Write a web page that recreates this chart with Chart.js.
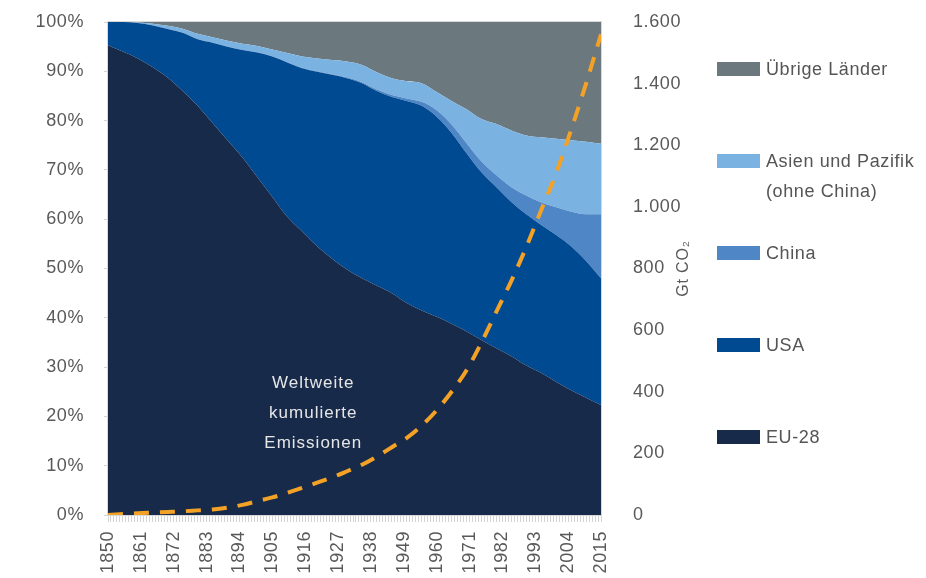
<!DOCTYPE html>
<html>
<head>
<meta charset="utf-8">
<script src="https://cdn.jsdelivr.net/npm/chart.js@4.4.1/dist/chart.umd.min.js"></script>
<style>
  html, body { margin: 0; padding: 0; background: #ffffff; }
  #wrap { position: relative; width: 926px; height: 578px; overflow: hidden; font-family: "Liberation Sans", Arial, sans-serif; }
  #c { position: absolute; left: 0; top: 0; }
  .lg-box { position: absolute; width: 43px; height: 14px; }
  .lg-txt { position: absolute; font-size: 18px; line-height: 30px; color: #555555; letter-spacing: 0.6px; white-space: nowrap; }
</style>
</head>
<body>
<div id="wrap">
  <canvas id="c" width="926" height="578"></canvas>
  <div id="legend"></div>
</div>
<script>
// ---- Data ----
const years = [1850,1855,1860,1865,1870,1875,1880,1885,1890,1895,1900,1905,1910,1915,1920,1925,1930,1935,1940,1945,1950,1955,1960,1965,1970,1975,1980,1985,1990,1995,2000,2005,2010,2015];

// shares of cumulative emissions, %
const shareEU    = [95.3,94.0,92.6,90.8,88.7,86.0,83.0,79.5,76.0,72.5,68.5,64.5,60.5,57.5,54.5,52.0,49.8,48.0,46.5,45.0,43.0,41.5,40.2,38.8,37.2,35.5,33.8,32.2,30.3,28.8,27.0,25.3,23.8,22.3];
const shareUSA   = [4.7,6.0,7.2,8.5,9.9,11.8,13.5,16.3,19.0,21.8,25.3,28.5,31.3,33.1,35.4,37.3,38.8,39.6,39.5,39.8,41.0,41.5,40.6,38.7,36.2,34.0,32.7,31.3,30.7,30.0,29.8,29.2,27.7,25.7];
const shareChina = [0,0,0,0.05,0.05,0.05,0.05,0.05,0.05,0.05,0.05,0.05,0.05,0.1,0.1,0.1,0.15,0.2,0.3,0.4,0.5,0.8,1.3,1.7,2.0,2.2,2.4,3.0,3.8,4.6,5.6,7.0,9.5,13.0];
const shareAsia  = [0,0,0.1,0.3,0.6,0.8,1.05,1.05,1.15,1.25,1.3,1.35,1.85,2.3,2.6,2.9,3.25,3.5,3.5,3.4,3.5,3.8,3.7,4.8,6.9,8.6,10.4,11.5,12.2,13.2,13.9,14.5,14.7,14.3];
const shareOther = [0,0,0.1,0.35,0.75,1.35,2.4,3.1,3.8,4.4,4.85,5.6,6.3,7.0,7.4,7.7,8.0,8.7,10.2,11.4,12.0,12.4,14.2,16.0,17.7,19.7,20.7,22.0,23.0,23.4,23.7,24.0,24.3,24.7];

// worldwide cumulative emissions, Gt CO2
const cumulativeGt = [0,3,6,8,10,12,15,18,24,33,45,57,72,88,105,122,142,163,190,220,250,290,340,400,470,560,660,760,870,990,1110,1250,1400,1560];

// labels
const seriesLabels = ["EU-28","USA","China","Asien und Pazifik\n(ohne China)","Übrige Länder"];
const lineLabel = "Weltweite kumulierte Emissionen";
const annotationLines = ["Weltweite","kumulierte","Emissionen"];
const leftTicks = [0,10,20,30,40,50,60,70,80,90,100];
const rightTicks = [0,200,400,600,800,1000,1200,1400,1600];
const yearTickStep = 11;
const rightTitle = "Gt CO\u2082";

// ---- Styles ----
const colors = ["#172a4a","#004a91","#4f86c6","#7ab2e1","#6b787d"];
const lineColor = "#f4a226";
const textColor = "#595959";
const FONT = "'Liberation Sans', Arial, sans-serif";

const shareSeries = [shareEU, shareUSA, shareChina, shareAsia, shareOther];

const datasets = shareSeries.map((arr, i) => ({
  label: seriesLabels[i],
  data: years.map((yr, j) => ({ x: yr, y: arr[j] })),
  backgroundColor: colors[i],
  borderColor: colors[i],
  borderWidth: 0,
  pointRadius: 0,
  fill: i === 0 ? 'origin' : '-1',
  cubicInterpolationMode: 'monotone',
  yAxisID: 'y',
  order: 1
}));
datasets.push({
  label: lineLabel,
  data: years.map((yr, j) => ({ x: yr, y: cumulativeGt[j] })),
  borderColor: lineColor,
  backgroundColor: lineColor,
  borderWidth: 4,
  borderDash: [15, 11],
  borderCapStyle: 'butt',
  pointRadius: 0,
  fill: false,
  cubicInterpolationMode: 'monotone',
  yAxisID: 'y1',
  order: -1
});

const spacingPlugin = {
  id: 'spacing',
  beforeUpdate(chart) { chart.ctx.letterSpacing = '0.6px'; },
  beforeDraw(chart) { chart.ctx.letterSpacing = '0.6px'; }
};

const framePlugin = {
  id: 'frame',
  afterDatasetsDraw(chart) {
    const { ctx, chartArea: a, scales } = chart;
    ctx.save();
    ctx.strokeStyle = '#d8d8d8';
    ctx.lineWidth = 1;
    ctx.strokeRect(a.left - 0.5, a.top - 0.5, a.right - a.left + 1, a.bottom - a.top + 1);
    // annotation text inside the chart
    ctx.fillStyle = '#e6e6e6';
    ctx.font = "17px " + FONT;
    ctx.letterSpacing = '1px';
    ctx.textAlign = 'center';
    ctx.textBaseline = 'middle';
    const cx = scales.x.getPixelForValue(1918.7);
    const cy = scales.y.getPixelForValue(20.7);
    annotationLines.forEach((t, i) => ctx.fillText(t, cx, cy + (i - 1) * 30));
    // right axis title, reading bottom-to-top
    ctx.fillStyle = textColor;
    ctx.font = "16px " + FONT;
    ctx.letterSpacing = '0.8px';
    ctx.translate(a.right + 83, (a.top + a.bottom) / 2);
    ctx.rotate(-Math.PI / 2);
    ctx.fillText(rightTitle, 0, 0);
    ctx.restore();
  }
};

const fmtThousands = v => String(v).replace(/\B(?=(\d{3})+(?!\d))/g, '.');

new Chart(document.getElementById('c'), {
  type: 'line',
  data: { datasets },
  plugins: [spacingPlugin, framePlugin],
  options: {
    responsive: false,
    animation: false,
    devicePixelRatio: 1,
    layout: { padding: { left: 0, right: 215, top: 22, bottom: 0 } },
    plugins: { legend: { display: false }, tooltip: { enabled: false } },
    scales: {
      x: {
        type: 'linear',
        min: years[0],
        max: years[years.length - 1],
        ticks: {
          stepSize: 1,
          autoSkip: false,
          maxRotation: 90,
          minRotation: 90,
          padding: 9,
          color: textColor,
          font: { family: FONT, size: 18 },
          callback: v => ((v - years[0]) % yearTickStep === 0 ? String(v) : '')
        },
        grid: { drawOnChartArea: false, drawTicks: true, tickLength: 7, color: '#d3d3d3' },
        border: { display: true, color: '#cfcfcf' },
        afterFit: s => { s.height = 63; }
      },
      y: {
        position: 'left',
        stacked: true,
        min: leftTicks[0],
        max: leftTicks[leftTicks.length - 1],
        afterBuildTicks: s => { s.ticks = leftTicks.map(v => ({ value: v })); },
        ticks: {
          padding: 20,
          color: textColor,
          font: { family: FONT, size: 18 },
          callback: v => v + '%'
        },
        grid: { drawOnChartArea: false, drawTicks: true, tickLength: 4, color: '#d3d3d3' },
        border: { display: true, color: '#d8d8d8' },
        afterFit: s => { s.width = 108; s.paddingTop = 0; s.paddingBottom = 0; }
      },
      y1: {
        position: 'right',
        min: rightTicks[0],
        max: rightTicks[rightTicks.length - 1],
        afterBuildTicks: s => { s.ticks = rightTicks.map(v => ({ value: v })); },
        ticks: {
          padding: 24,
          color: textColor,
          font: { family: FONT, size: 18 },
          callback: v => fmtThousands(v)
        },
        grid: { display: false, drawOnChartArea: false },
        border: { display: true, color: '#d8d8d8' },
        afterFit: s => { s.width = 110; s.paddingTop = 0; s.paddingBottom = 0; }
      }
    }
  }
});

// ---- HTML legend, top-to-bottom in reverse stacking order ----
const legend = document.getElementById('legend');
const legendOrder = [4, 3, 2, 1, 0];
legendOrder.forEach((idx, k) => {
  const centerY = 69 + k * 92;
  const box = document.createElement('div');
  box.className = 'lg-box';
  box.style.left = '717px';
  box.style.top = (centerY - 7) + 'px';
  box.style.background = colors[idx];
  legend.appendChild(box);
  const txt = document.createElement('div');
  txt.className = 'lg-txt';
  txt.style.left = '766px';
  txt.style.top = (centerY - 15) + 'px';
  txt.innerHTML = seriesLabels[idx].split('\n').join('<br>');
  legend.appendChild(txt);
});
</script>
</body>
</html>
